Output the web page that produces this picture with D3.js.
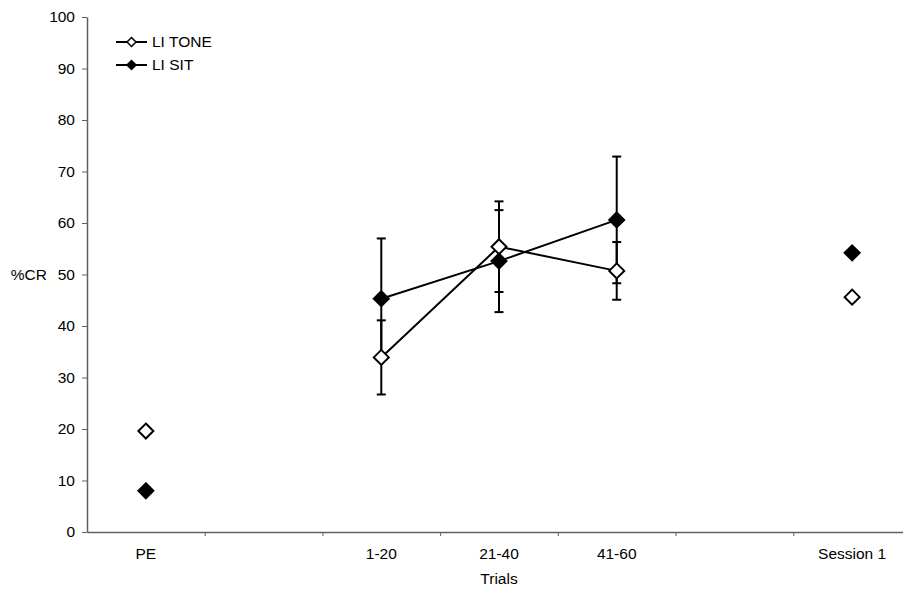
<!DOCTYPE html>
<html>
  <head>
    <meta charset="utf-8">
    <title>%CR by trials</title>
    <script src="https://d3js.org/d3.v7.min.js"></script>
    <style>
      body { margin: 0; background: white; }
      svg { font-family: "Liberation Sans", Arial, sans-serif; font-size: 15.5px; }
      .axis path, .axis line { stroke: #606060; }
      .axis text { font-size: 15.5px; fill: #000; }
    </style>
  </head>
  <body>
    <svg id="chart" width="903" height="592"></svg>
    <script>
      // chart data
      var categories = ["PE", "", "1-20", "21-40", "41-60", "", "Session 1"];
      var toneValues = [19.6, null, 33.9, 55.4, 50.7, null, 45.6];
      var toneErrors = [null, null, 7.2, 8.8, 5.6, null, null];
      var sitValues = [8.0, null, 45.3, 52.6, 60.6, null, 54.2];
      var sitErrors = [null, null, 11.7, 9.9, 12.3, null, null];
      var yTicks = [0, 10, 20, 30, 40, 50, 60, 70, 80, 90, 100];

      var series = [
        { name: "LI TONE", values: toneValues, errors: toneErrors, fill: "white" },
        { name: "LI SIT", values: sitValues, errors: sitErrors, fill: "black" }
      ];

      var svg = d3.select("#chart");
      var margin = { left: 87, top: 17, bottom: 60 };
      var height = 592;

      // scales: x is in category units, band i spans [i, i+1]
      var x = d3.scaleLinear().domain([0, categories.length]).range([margin.left, 911]);
      var y = d3.scaleLinear().domain([0, 100]).range([height - margin.bottom, margin.top]);

      function diamond(r) {
        return "M0," + (-r) + "L" + r + ",0L0," + r + "L" + (-r) + ",0Z";
      }

      // axes
      svg.append("g")
        .attr("class", "axis")
        .attr("transform", "translate(0," + y(0) + ")")
        .call(d3.axisBottom(x)
          .tickValues(d3.range(1, categories.length + 1))
          .tickFormat("")
          .tickSize(4)
          .tickSizeOuter(0));
      svg.append("g")
        .attr("class", "axis")
        .attr("transform", "translate(" + margin.left + ",0)")
        .call(d3.axisLeft(y)
          .tickValues(yTicks)
          .tickSize(5)
          .tickSizeOuter(0)
          .tickPadding(7));
      svg.selectAll(".axis .domain").attr("stroke-width", 1.5);

      // category labels
      svg.selectAll(".catLabel")
          .data(categories)
        .enter().append("text")
          .attr("class", "catLabel")
          .attr("x", function(d, i) { return x(i + 0.5); })
          .attr("y", y(0) + 27)
          .attr("text-anchor", "middle")
          .attr("fill", "#000")
          .text(function(d) { return d; });

      svg.append("text")
        .attr("x", x(3.5))
        .attr("y", 584)
        .attr("text-anchor", "middle")
        .attr("fill", "#000")
        .text("Trials");
      svg.append("text")
        .attr("x", 47)
        .attr("y", y(50))
        .attr("dy", "0.35em")
        .attr("text-anchor", "end")
        .attr("fill", "#000")
        .text("%CR");

      var plot = svg.append("g");

      // error bars
      series.forEach(function(s) {
        var bars = s.values.map(function(v, i) { return { i: i, v: v, e: s.errors[i] }; })
          .filter(function(d) { return d.v != null && d.e != null; });
        var g = plot.selectAll(null).data(bars).enter().append("g")
          .attr("stroke", "black")
          .attr("stroke-width", 2);
        g.append("line")
          .attr("x1", function(d) { return x(d.i + 0.5); })
          .attr("x2", function(d) { return x(d.i + 0.5); })
          .attr("y1", function(d) { return y(d.v - d.e); })
          .attr("y2", function(d) { return y(d.v + d.e); });
        [-1, 1].forEach(function(sign) {
          g.append("line")
            .attr("x1", function(d) { return x(d.i + 0.5) - 4.5; })
            .attr("x2", function(d) { return x(d.i + 0.5) + 4.5; })
            .attr("y1", function(d) { return y(d.v + sign * d.e); })
            .attr("y2", function(d) { return y(d.v + sign * d.e); });
        });
      });

      // lines (only between consecutive defined points)
      var line = d3.line()
        .defined(function(d) { return d != null; })
        .x(function(d, i) { return x(i + 0.5); })
        .y(function(d) { return y(d); });
      series.forEach(function(s) {
        plot.append("path")
          .attr("d", line(s.values))
          .attr("fill", "none")
          .attr("stroke", "black")
          .attr("stroke-width", 2);
      });

      // markers
      series.forEach(function(s) {
        plot.selectAll(null)
            .data(s.values.map(function(v, i) { return { i: i, v: v }; }).filter(function(d) { return d.v != null; }))
          .enter().append("path")
            .attr("transform", function(d) { return "translate(" + x(d.i + 0.5) + "," + y(d.v) + ")"; })
            .attr("d", diamond(7.5))
            .attr("fill", s.fill)
            .attr("stroke", "black")
            .attr("stroke-width", 2);
      });

      // legend
      var legend = svg.append("g");
      series.forEach(function(s, i) {
        var ly = 42 + i * 23;
        legend.append("line")
          .attr("x1", 116).attr("x2", 147)
          .attr("y1", ly).attr("y2", ly)
          .attr("stroke", "black")
          .attr("stroke-width", 2);
        legend.append("path")
          .attr("transform", "translate(131.5," + ly + ")")
          .attr("d", diamond(4.5))
          .attr("fill", s.fill)
          .attr("stroke", "black")
          .attr("stroke-width", 1.5);
        legend.append("text")
          .attr("x", 152)
          .attr("y", ly)
          .attr("dy", "0.35em")
          .attr("fill", "#000")
          .text(s.name);
      });
    </script>
  </body>
</html>
